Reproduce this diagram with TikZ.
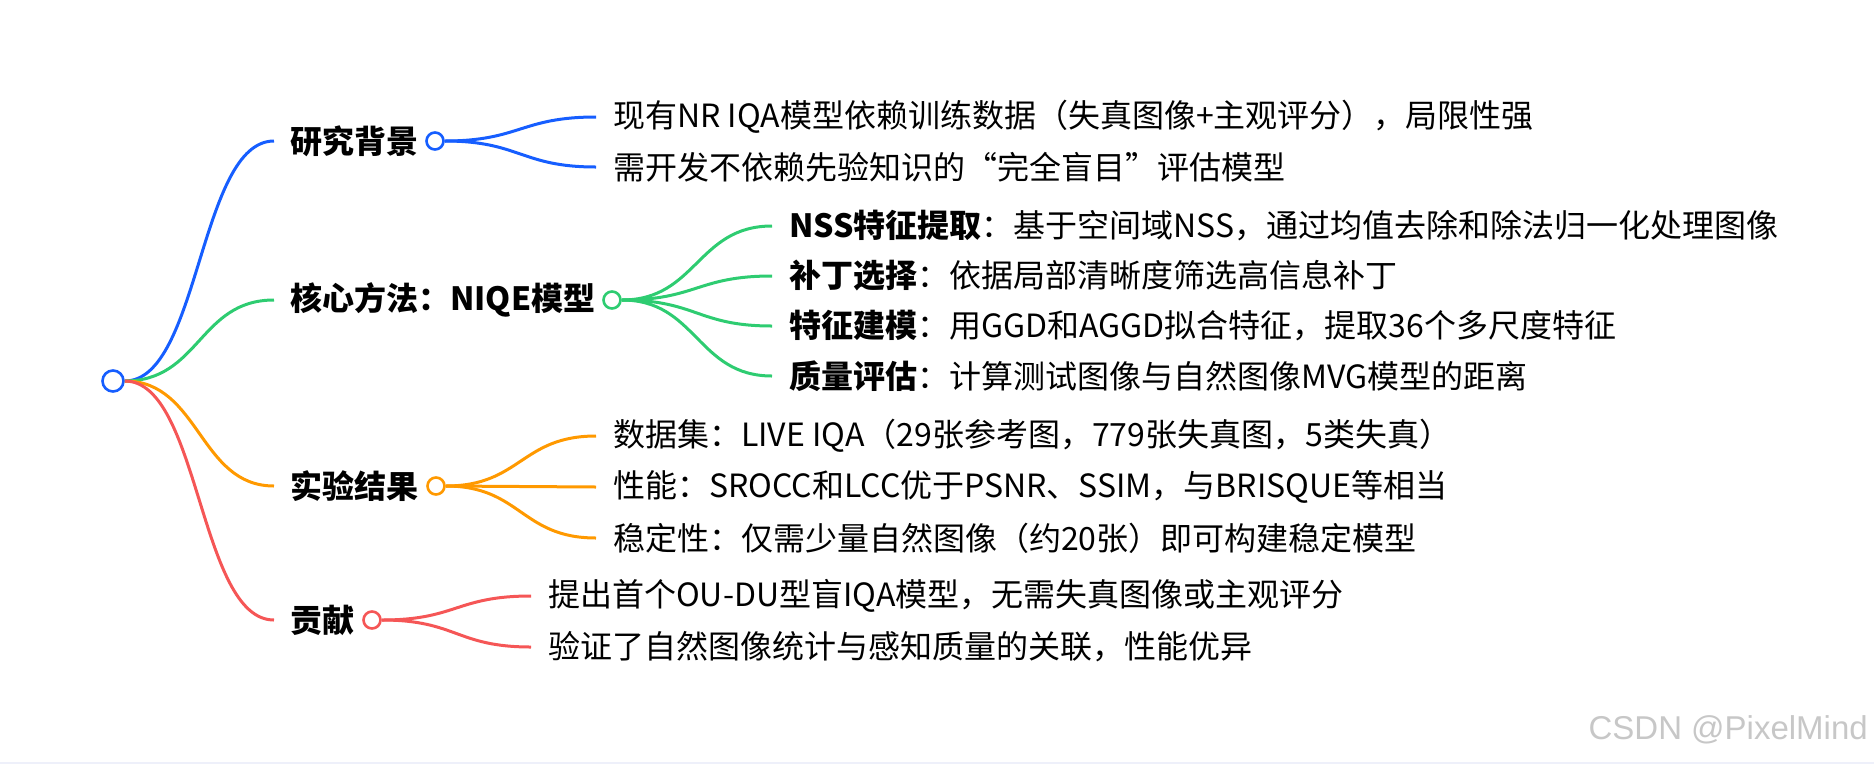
\documentclass[tikz,border=0pt]{standalone}
\usepackage{fontspec}
\setmainfont{Noto Sans CJK SC}
\newfontfamily\markfont{Liberation Sans}
\usepackage{xcolor}
\usetikzlibrary{positioning}

\definecolor{mapblue}{RGB}{22,94,255}
\definecolor{mapgreen}{RGB}{46,204,113}
\definecolor{maporange}{RGB}{255,153,0}
\definecolor{mapred}{RGB}{245,86,86}
\definecolor{stripe}{RGB}{238,240,250}

\tikzset{
    hub/.style = {circle, line width=2.6pt, fill=white, inner sep=0pt, minimum size=17pt},
    topic/.style = {anchor=west, inner xsep=16pt, inner ysep=0pt, font=\fontsize{32}{38}\selectfont\bfseries},
    leaf/.style = {anchor=west, inner xsep=17pt, inner ysep=0pt, font=\fontsize{32}{38}\selectfont},
    twig/.style = {line width=3pt}
}

\begin{document}
\begin{tikzpicture}[x=1pt, y=-1pt]
        \useasboundingbox (0,0) rectangle (1874,764);
        \fill[stripe] (0,762) rectangle (1874,764);

        % root
        \node[hub, draw=mapblue, minimum size=21pt] (root) at (113,381) {};

        % main topics
        \node[topic] (bg) at (274,141) {研究背景};
        \node[topic] (fa) at (274,300) {核心方法：NIQE模型};
        \node[topic] (sy) at (274,486) {实验结果};
        \node[topic] (gx) at (274,620) {贡献};

        \node[hub, draw=mapblue] (bgdot) at (435,141) {};
        \node[hub, draw=mapgreen] (fadot) at (612,300) {};
        \node[hub, draw=maporange] (sydot) at (436,486) {};
        \node[hub, draw=mapred] (gxdot) at (372,620) {};

        \draw[twig, mapblue] (root.east) .. controls +(75,0) and +(-75,0) .. (bg.west);
        \draw[twig, mapgreen] (root.east) .. controls +(75,0) and +(-75,0) .. (fa.west);
        \draw[twig, maporange] (root.east) .. controls +(75,0) and +(-75,0) .. (sy.west);
        \draw[twig, mapred] (root.east) .. controls +(75,0) and +(-75,0) .. (gx.west);

        % leaves
        \node[leaf] (bgA) at (596,117) {现有NR IQA模型依赖训练数据（失真图像+主观评分），局限性强};
        \node[leaf] (bgB) at (596,167) {需开发不依赖先验知识的“完全盲目”评估模型};

        \node[leaf] (faA) at (772,226) {{\bfseries NSS特征提取}：基于空间域NSS，通过均值去除和除法归一化处理图像};
        \node[leaf] (faB) at (772,276) {{\bfseries 补丁选择}：依据局部清晰度筛选高信息补丁};
        \node[leaf] (faC) at (772,326) {{\bfseries 特征建模}：用GGD和AGGD拟合特征，提取36个多尺度特征};
        \node[leaf] (faD) at (772,376) {{\bfseries 质量评估}：计算测试图像与自然图像MVG模型的距离};

        \node[leaf] (syA) at (596,436) {数据集：LIVE IQA（29张参考图，779张失真图，5类失真）};
        \node[leaf] (syB) at (596,487) {性能：SROCC和LCC优于PSNR、SSIM，与BRISQUE等相当};
        \node[leaf] (syC) at (596,538) {稳定性：仅需少量自然图像（约20张）即可构建稳定模型};

        \node[leaf] (gxA) at (531,596) {提出首个OU-DU型盲IQA模型，无需失真图像或主观评分};
        \node[leaf] (gxB) at (531,647) {验证了自然图像统计与感知质量的关联，性能优异};

        \draw[twig, mapblue] (bgdot.east) .. controls +(75,0) and +(-75,0) .. (bgA.west);
        \draw[twig, mapblue] (bgdot.east) .. controls +(75,0) and +(-75,0) .. (bgB.west);
        \draw[twig, mapgreen] (fadot.east) .. controls +(75,0) and +(-75,0) .. (faA.west);
        \draw[twig, mapgreen] (fadot.east) .. controls +(75,0) and +(-75,0) .. (faB.west);
        \draw[twig, mapgreen] (fadot.east) .. controls +(75,0) and +(-75,0) .. (faC.west);
        \draw[twig, mapgreen] (fadot.east) .. controls +(75,0) and +(-75,0) .. (faD.west);
        \draw[twig, maporange] (sydot.east) .. controls +(75,0) and +(-75,0) .. (syA.west);
        \draw[twig, maporange] (sydot.east) .. controls +(75,0) and +(-75,0) .. (syB.west);
        \draw[twig, maporange] (sydot.east) .. controls +(75,0) and +(-75,0) .. (syC.west);
        \draw[twig, mapred] (gxdot.east) .. controls +(75,0) and +(-75,0) .. (gxA.west);
        \draw[twig, mapred] (gxdot.east) .. controls +(75,0) and +(-75,0) .. (gxB.west);

        % watermark
        \node[anchor=east, inner sep=0pt, text=black!22, font=\markfont\fontsize{33}{40}\selectfont] (mark) at (1868,730) {CSDN @PixelMind};
\end{tikzpicture}
\end{document}
